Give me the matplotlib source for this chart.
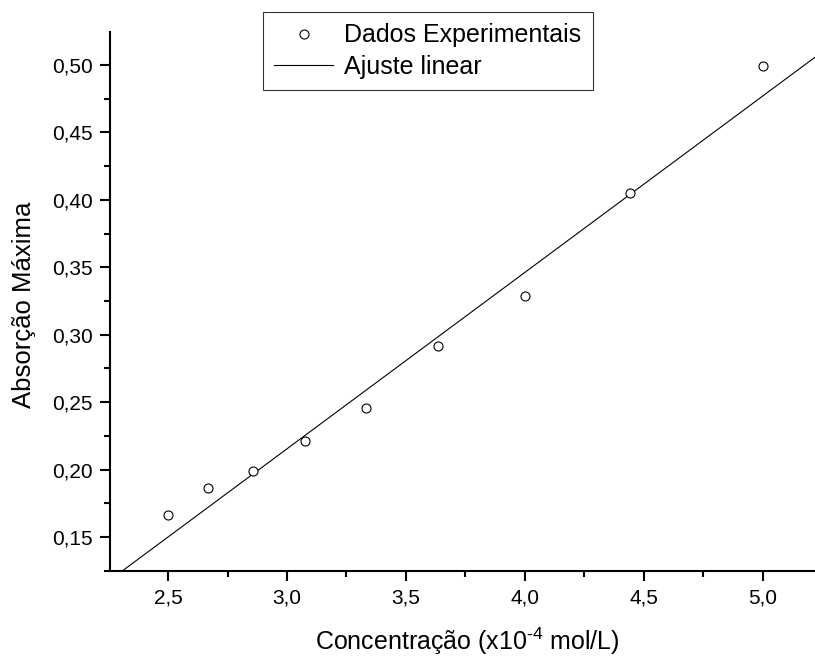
import numpy as np
import matplotlib
matplotlib.use('Agg')
import matplotlib.pyplot as plt
from matplotlib.ticker import MultipleLocator, FuncFormatter

plt.rcParams['font.family'] = ['Liberation Sans', 'DejaVu Sans']
plt.rcParams['mathtext.fontset'] = 'custom'
plt.rcParams['mathtext.rm'] = 'Liberation Sans'

# Data
conc = [2.5, 2.667, 2.857, 3.077, 3.333, 3.636, 4.0, 4.444, 5.0]
absorb = [0.166, 0.186, 0.199, 0.221, 0.246, 0.292, 0.329, 0.405, 0.499]

# linear fit coefficients
fit_slope = 0.1308
fit_intercept = -0.177

fig = plt.figure(figsize=(8.15, 6.57), dpi=100)
ax = fig.add_axes([110 / 815, 86 / 657, 705 / 815, 539 / 657])

xlim = (2.256, 5.22)
ylim = (0.1248, 0.5245)

ax.plot(conc, absorb, 'o', mfc='white', mec='black', ms=6.5, mew=0.8,
        label='Dados Experimentais', zorder=3)
xfit = np.array(xlim)
ax.plot(xfit, fit_slope * xfit + fit_intercept, '-', color='black', lw=0.8,
        label='Ajuste linear')

ax.set_xlim(*xlim)
ax.set_ylim(*ylim)

for s in ['top', 'right']:
    ax.spines[s].set_visible(False)
for s in ['left', 'bottom']:
    ax.spines[s].set_linewidth(1.5)

ax.xaxis.set_major_locator(MultipleLocator(0.5))
ax.xaxis.set_minor_locator(MultipleLocator(0.25))
ax.yaxis.set_major_locator(MultipleLocator(0.05))
ax.yaxis.set_minor_locator(MultipleLocator(0.025))
ax.xaxis.set_major_formatter(FuncFormatter(lambda v, p: f'{v:.1f}'.replace('.', ',')))
ax.yaxis.set_major_formatter(FuncFormatter(lambda v, p: f'{v:.2f}'.replace('.', ',')))
ax.tick_params(which='major', direction='out', length=7, width=1.5, labelsize=15, pad=5.5)
ax.tick_params(which='minor', direction='out', length=4, width=1.5)

# axis titles placed in figure pixels
fig.text(467 / 815, 1 - 650 / 657, 'Concentração (x10$^{\\text{-4}}$ mol/L)',
         fontsize=18, ha='center', va='baseline')
fig.text(24 / 815, 1 - 305 / 657, 'Absorção Máxima', fontsize=18.5,
         rotation=90, ha='center', va='center')

leg = ax.legend(loc='upper left', bbox_to_anchor=(263 / 815, 1 - 12 / 657),
                bbox_transform=fig.transFigure, fontsize=18, frameon=True,
                fancybox=False, edgecolor='black', borderpad=0.45,
                handlelength=2.35, handletextpad=0.45, labelspacing=0.3,
                borderaxespad=0)
leg.get_frame().set_linewidth(0.8)

fig.savefig('out.png', dpi=100)
